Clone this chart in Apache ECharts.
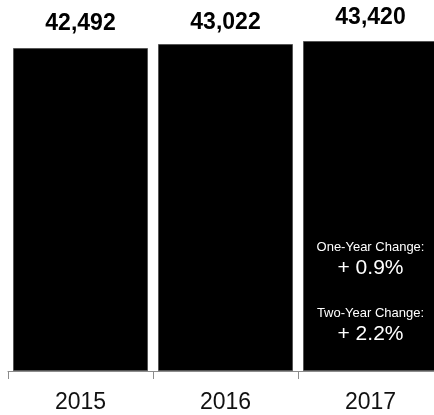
<!DOCTYPE html>
<html>
<head>
<meta charset="utf-8">
<script src="https://cdn.jsdelivr.net/npm/echarts@6/dist/echarts.min.js"></script>
<style>
    html, body { margin: 0; padding: 0; background: #fff; }
    #chart { width: 434px; height: 415px; }
</style>
</head>
<body>
<div id="chart"></div>
<script>
var years = ['2015', '2016', '2017'];
var values = [42492, 43022, 43420];
var labelGaps = [13, 10, 12];

var font = '"Liberation Sans", Helvetica, Arial, sans-serif';

// change from last year and from two years back, shown inside the last bar
function pct(a, b) {
    return '+ ' + ((a - b) / b * 100).toFixed(1) + '%';
}
var oneYear = pct(values[2], values[1]);
var twoYear = pct(values[2], values[0]);

var chart = echarts.init(document.getElementById('chart'));

var option = {
    animation: false,
    grid: { left: 8, width: 435, top: 29, bottom: 44, outerBoundsMode: 'none', containLabel: false },
    xAxis: {
        type: 'category',
        data: years,
        axisLine: { lineStyle: { color: '#8c8c8c', width: 1 } },
        axisTick: { show: true, length: 8, lineStyle: { color: '#8c8c8c' } },
        axisLabel: { color: '#111', fontSize: 23, fontFamily: font, margin: 20 }
    },
    yAxis: { type: 'value', min: 0, max: 45000, show: false },
    series: [
        {
            type: 'bar',
            barWidth: 135,
            data: values.map(function (v, i) {
                return { value: v, label: { distance: labelGaps[i] } };
            }),
            itemStyle: { color: '#000', borderColor: '#555', borderWidth: 1 },
            label: {
                show: true,
                position: 'top',
                color: '#000',
                fontSize: 23,
                fontWeight: 'bold',
                fontFamily: font,
                formatter: function (p) {
                    return p.value.toLocaleString('en-US');
                }
            }
        },
        {
            // same bars, invisible, used only to place the change note
            type: 'bar',
            barWidth: 135,
            barGap: '-100%',
            silent: true,
            itemStyle: { color: 'rgba(0,0,0,0)' },
            data: values.map(function (v, i) {
                return {
                    value: v,
                    label: { show: i === 2 }
                };
            }),
            label: {
                position: 'insideBottom',
                distance: 24,
                align: 'center',
                fontFamily: font,
                color: '#fff',
                formatter: '{a|One-Year Change:}\n{b|' + oneYear + '}\n{s| }\n{a|Two-Year Change:}\n{b|' + twoYear + '}',
                rich: {
                    a: { fontSize: 13, lineHeight: 17, color: '#fff', fontFamily: font, align: 'center' },
                    b: { fontSize: 21, lineHeight: 25, color: '#fff', fontFamily: font, align: 'center' },
                    s: { fontSize: 10, lineHeight: 24, align: 'center' }
                }
            }
        }
    ]
};

chart.setOption(option);
</script>
</body>
</html>
